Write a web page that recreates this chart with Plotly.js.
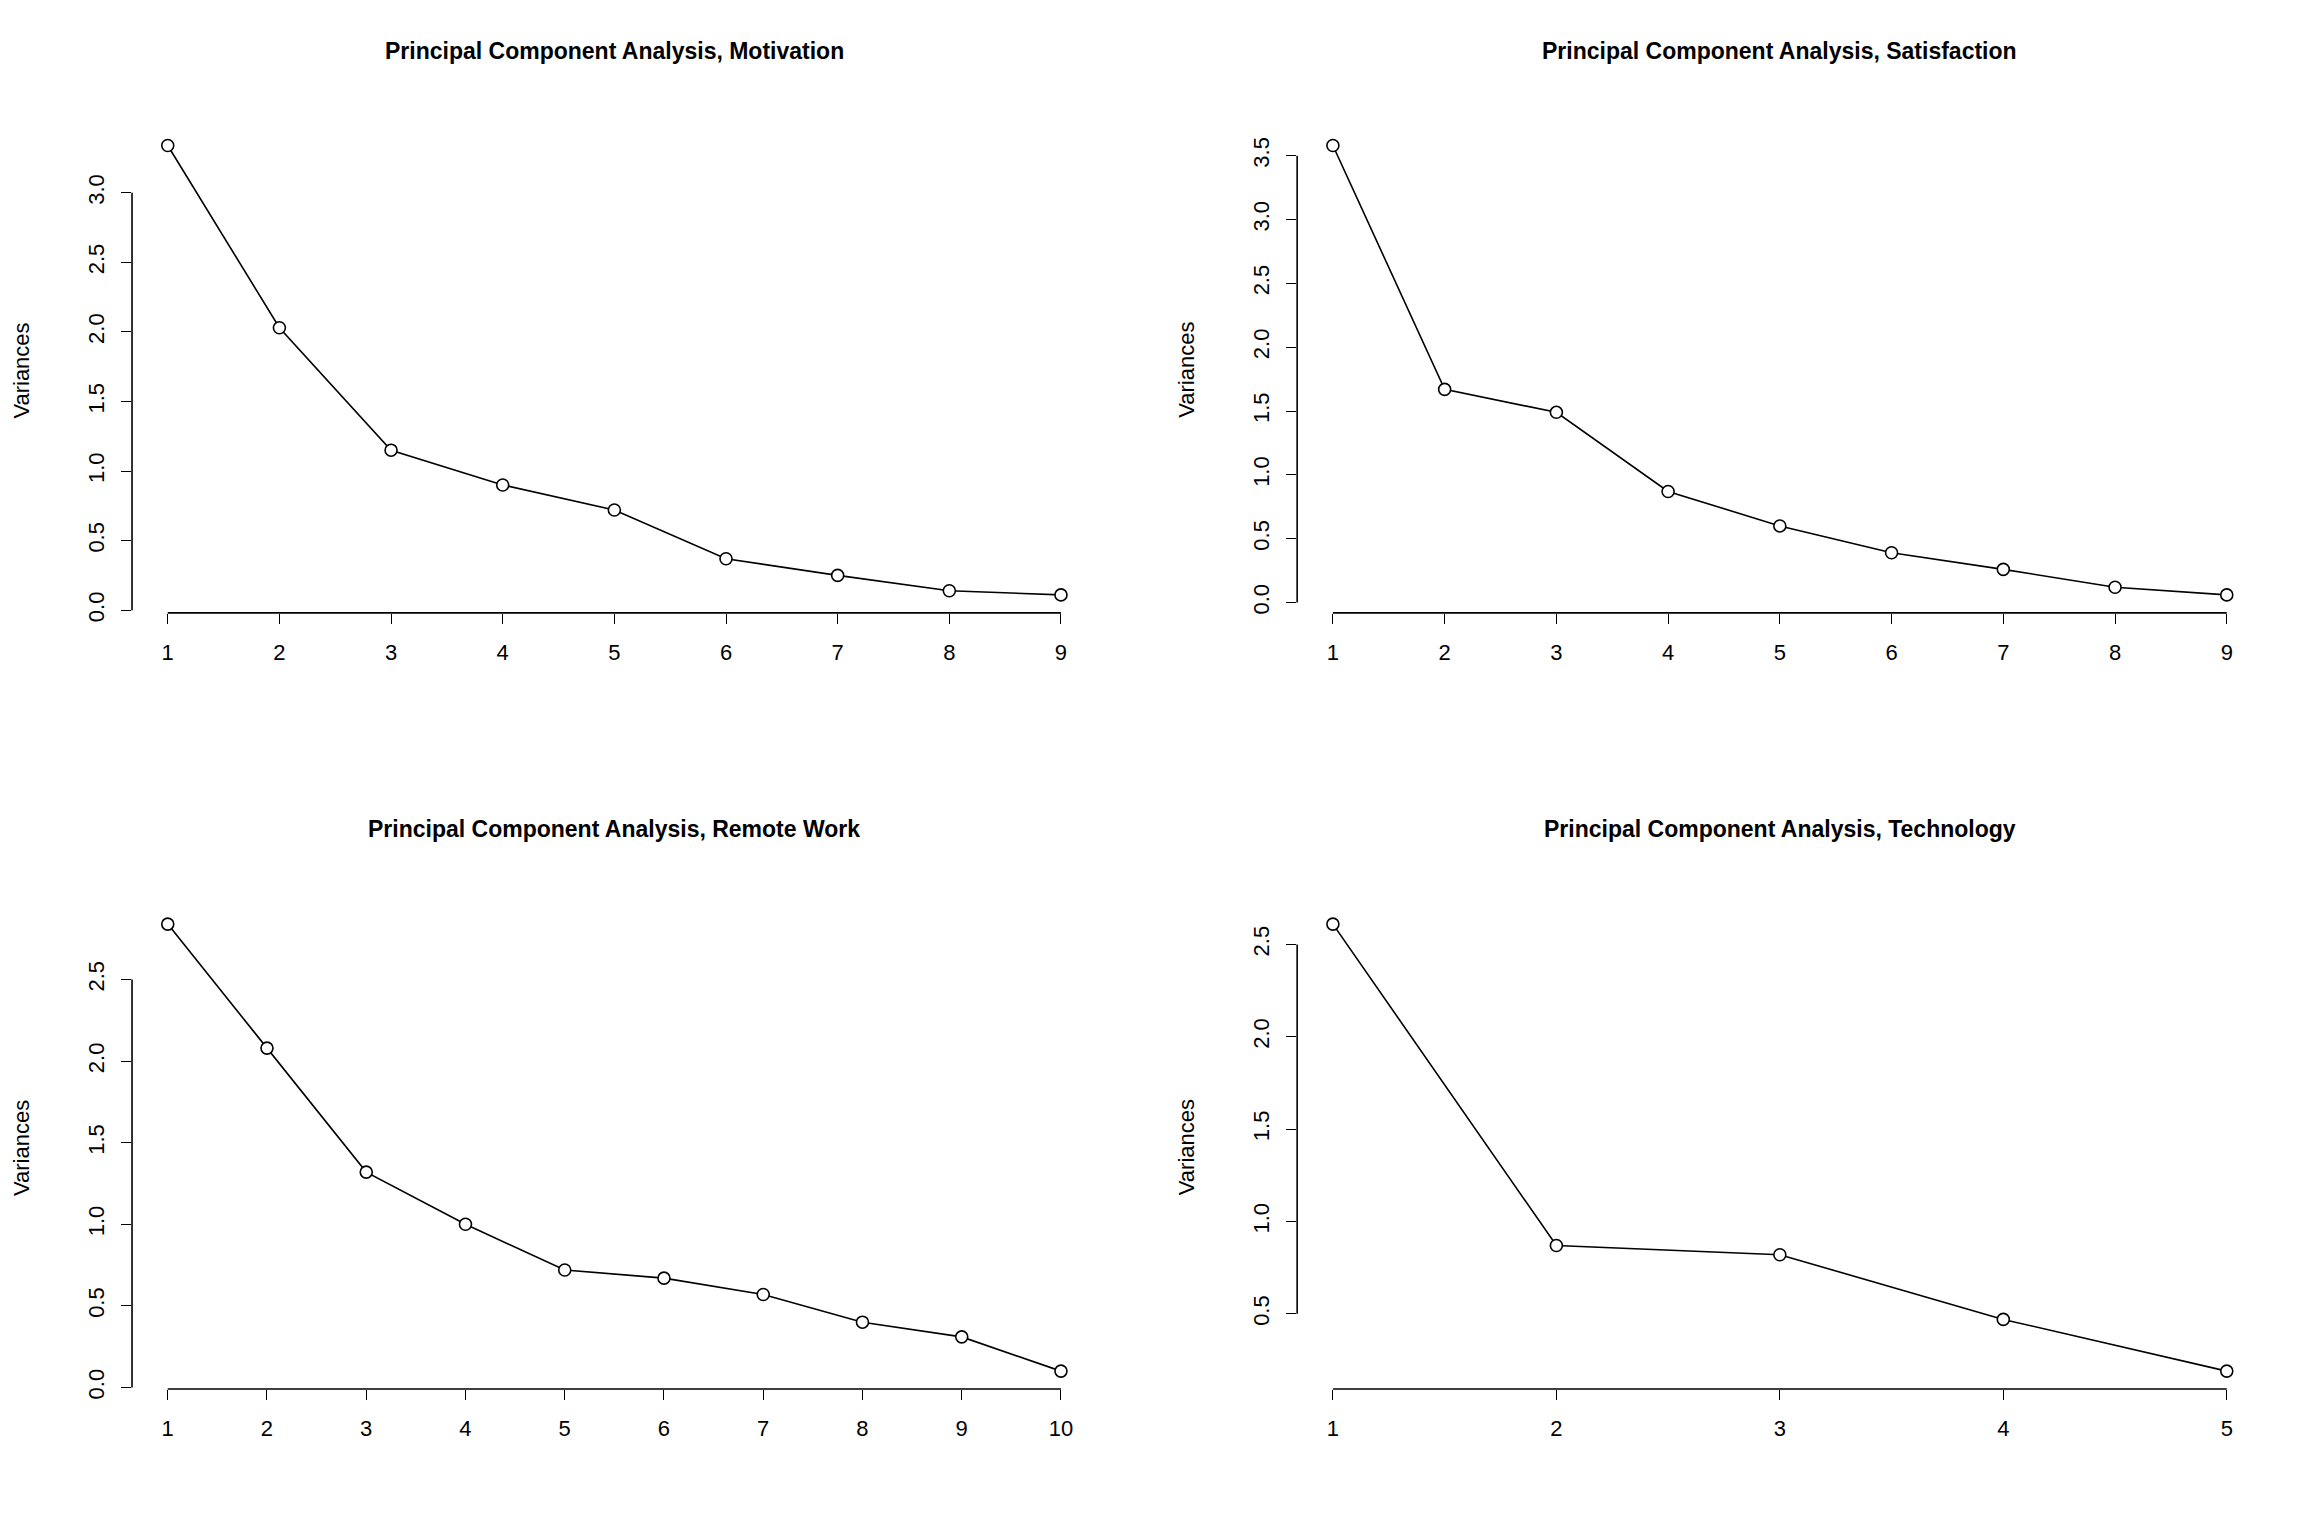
<!DOCTYPE html>
<html>
<head>
<meta charset="utf-8">
<script src="https://cdn.plot.ly/plotly-3.0.1.min.js"></script>
<style>body{margin:0;background:#fff}#chart{width:2304px;height:1536px}</style>
</head>
<body>
<div id="chart"></div>
<script>
const titles = ["Principal Component Analysis, Motivation", "Principal Component Analysis, Satisfaction",
    "Principal Component Analysis, Remote Work", "Principal Component Analysis, Technology"];
const motivation = [3.34, 2.03, 1.15, 0.90, 0.72, 0.37, 0.25, 0.14, 0.11];
const satisfaction = [3.58, 1.67, 1.49, 0.87, 0.60, 0.39, 0.26, 0.12, 0.06];
const remoteWork = [2.84, 2.08, 1.32, 1.00, 0.72, 0.67, 0.57, 0.40, 0.31, 0.10];
const technology = [2.61, 0.87, 0.82, 0.47, 0.19];
const yTicks = [
    [0, 0.5, 1, 1.5, 2, 2.5, 3],
    [0, 0.5, 1, 1.5, 2, 2.5, 3, 3.5],
    [0, 0.5, 1, 1.5, 2, 2.5],
    [0.5, 1, 1.5, 2, 2.5]
];
const series = [motivation, satisfaction, remoteWork, technology];

const xDomains = [[0.0573, 0.476], [0.563, 0.982], [0.0573, 0.476], [0.563, 0.982]];
const yDomains = [[0.601, 0.917], [0.601, 0.917], [0.0957, 0.410], [0.0957, 0.410]];

const font = {family: "Liberation Sans, Arial, sans-serif", color: "#000"};
const traces = [];
const shapes = [];
const annotations = [];
const layout = {
    width: 2304, height: 1536, showlegend: false,
    paper_bgcolor: "#fff", plot_bgcolor: "#fff",
    margin: {l: 0, r: 0, t: 0, b: 0},
    font: Object.assign({size: 18}, font)
};

function pad(lo, hi) {
    const s = hi - lo;
    return [lo - 0.04 * s, hi + 0.04 * s];
}

series.forEach((vals, i) => {
    const n = i + 1;
    const xs = vals.map((v, k) => k + 1);
    const ax = n === 1 ? "" : n;
    traces.push({
        x: xs, y: vals, xaxis: "x" + ax, yaxis: "y" + ax,
        type: "scatter", mode: "lines+markers",
        line: {color: "#000", width: 1.6},
        marker: {symbol: "circle", size: 12, color: "#fff", line: {color: "#000", width: 1.6}}
    });
    layout["xaxis" + ax] = {
        domain: xDomains[i], anchor: "y" + ax, range: pad(1, vals.length),
        tickvals: xs, ticks: "outside", ticklen: 10, tickcolor: "#000",
        ticklabelstandoff: 10,
        showgrid: false, zeroline: false, showline: false, tickfont: {size: 22}
    };
    const yt = yTicks[i];
    layout["yaxis" + ax] = {
        domain: yDomains[i], anchor: "x" + ax,
        range: pad(Math.min(...vals), Math.max(...vals)),
        tickvals: yt, tickformat: ".1f", tickangle: -90,
        ticks: "outside", ticklen: 10, tickcolor: "#000",
        ticklabelstandoff: 8,
        showgrid: false, zeroline: false, showline: false, tickfont: {size: 22}
    };
    shapes.push({type: "line", xref: "x" + ax, yref: "y" + ax + " domain",
        x0: 1, x1: vals.length, y0: 0, y1: 0, line: {color: "#000", width: 1.6}});
    shapes.push({type: "line", xref: "x" + ax + " domain", yref: "y" + ax,
        x0: 0, x1: 0, y0: yt[0], y1: yt[yt.length - 1], line: {color: "#000", width: 1.6}});
    const cx = (xDomains[i][0] + xDomains[i][1]) / 2;
    annotations.push({text: "<b>" + titles[i] + "</b>", xref: "paper", yref: "paper",
        x: cx, y: yDomains[i][1] + 0.05, xanchor: "center", yanchor: "middle",
        showarrow: false, font: {size: 23}});
    annotations.push({text: "Variances", xref: "paper", yref: "paper", textangle: -90,
        x: xDomains[i][0] - 0.048, y: (yDomains[i][0] + yDomains[i][1]) / 2,
        xanchor: "center", yanchor: "middle", showarrow: false, font: {size: 22}});
});
layout.shapes = shapes;
layout.annotations = annotations;

Plotly.newPlot("chart", traces, layout, {displayModeBar: false});
</script>
</body>
</html>
